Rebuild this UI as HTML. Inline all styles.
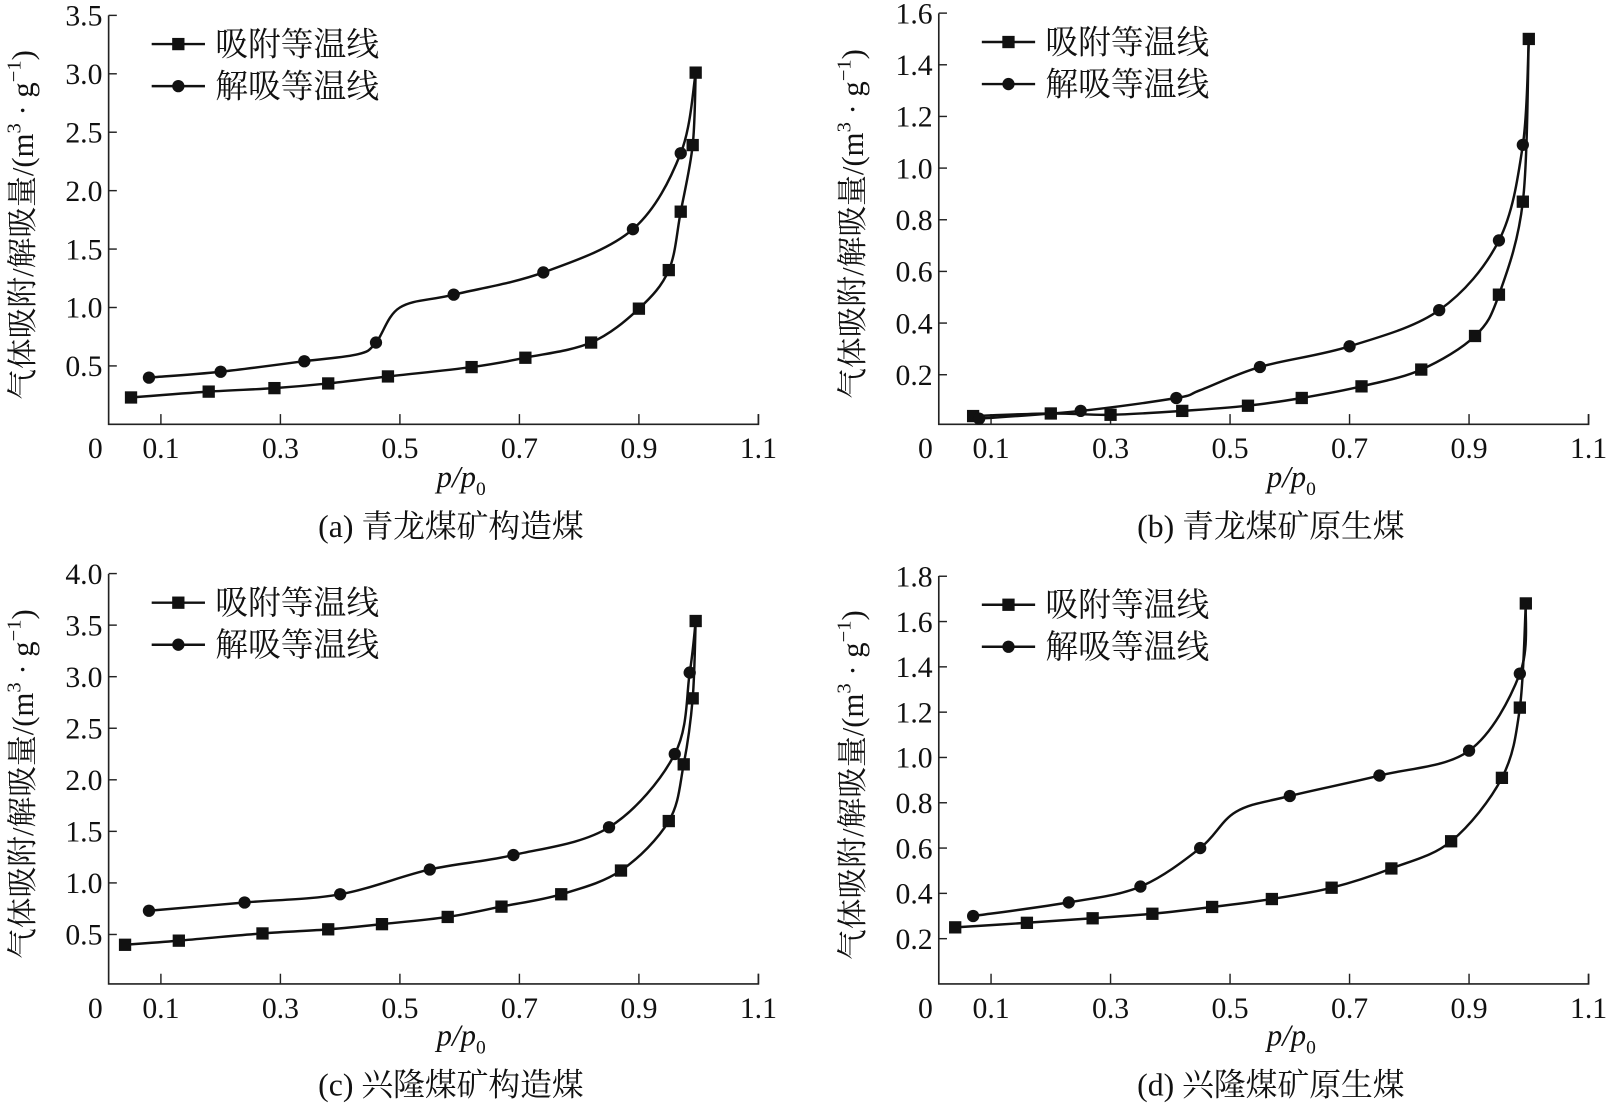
<!DOCTYPE html>
<html><head><meta charset="utf-8"><style>
html,body{margin:0;padding:0;background:#fff;}
svg{display:block;}
text{font-family:"Liberation Serif","Noto Serif CJK SC",serif;fill:#111;}
</style></head><body>
<svg id="chart" width="1607" height="1108" viewBox="0 0 1568 1081" preserveAspectRatio="none" xmlns="http://www.w3.org/2000/svg"></svg>
<script>
// Panel data arrays
const panelIds = ['a','b','c','d'];
const captions = ['(a)  青龙煤矿构造煤','(b)  青龙煤矿原生煤','(c)  兴隆煤矿构造煤','(d)  兴隆煤矿原生煤'];
const xTicks = [0.1,0.3,0.5,0.7,0.9,1.1];
const xTickLabels = ['0.1','0.3','0.5','0.7','0.9','1.1'];
const yTicksA = [0.5,1.0,1.5,2.0,2.5,3.0,3.5];
const yTicksB = [0.2,0.4,0.6,0.8,1.0,1.2,1.4,1.6];
const yTicksC = [0.5,1.0,1.5,2.0,2.5,3.0,3.5,4.0];
const yTicksD = [0.2,0.4,0.6,0.8,1.0,1.2,1.4,1.6,1.8];
const adsXA = [0.05,0.18,0.29,0.38,0.48,0.62,0.71,0.82,0.90,0.95,0.97,0.99,0.995];
const adsYA = [0.23,0.28,0.31,0.35,0.41,0.49,0.57,0.70,0.99,1.32,1.82,2.39,3.01];
const desXA = [0.08,0.20,0.34,0.43,0.46,0.50,0.59,0.74,0.89,0.97,0.995];
const desYA = [0.40,0.45,0.54,0.60,0.70,1.00,1.11,1.30,1.67,2.32,3.01];
const desMarkA = [1,1,1,0,1,0,1,1,1,1,0];
const adsXB = [0.07,0.20,0.30,0.42,0.53,0.62,0.72,0.82,0.91,0.95,0.99,1.00];
const adsYB = [0.04,0.05,0.045,0.06,0.08,0.11,0.155,0.22,0.35,0.51,0.87,1.50];
const desXB = [0.08,0.25,0.41,0.45,0.55,0.70,0.85,0.95,0.99,1.00];
const desYB = [0.03,0.06,0.11,0.14,0.23,0.31,0.45,0.72,1.09,1.50];
const desMarkB = [1,1,1,0,1,1,1,1,1,0];
const adsXC = [0.04,0.13,0.27,0.38,0.47,0.58,0.67,0.77,0.87,0.95,0.975,0.99,0.995];
const adsYC = [0.40,0.44,0.51,0.55,0.60,0.67,0.77,0.89,1.12,1.60,2.15,2.79,3.54];
const desXC = [0.08,0.24,0.40,0.55,0.69,0.85,0.96,0.985,0.995];
const desYC = [0.73,0.81,0.89,1.13,1.27,1.54,2.25,3.04,3.54];
const desMarkC = [1,1,1,1,1,1,1,1,0];
const adsXD = [0.04,0.16,0.27,0.37,0.47,0.57,0.67,0.77,0.87,0.955,0.985,0.995];
const adsYD = [0.25,0.27,0.29,0.31,0.34,0.375,0.425,0.51,0.63,0.91,1.22,1.68];
const desXD = [0.07,0.23,0.35,0.45,0.51,0.60,0.75,0.90,0.985,0.995];
const desYD = [0.30,0.36,0.43,0.60,0.76,0.83,0.92,1.03,1.37,1.68];
const desMarkD = [1,1,1,1,0,1,1,1,1,0];

const NS='http://www.w3.org/2000/svg';
const svg=document.getElementById('chart');
function mk(tag,attrs,parent){const e=document.createElementNS(NS,tag);for(const k in attrs)e.setAttribute(k,attrs[k]);(parent||svg).appendChild(e);return e;}

const layouts=[
 {ox:106,oy:414,x0:98.7,xs:583,y0:414,ys:114,top:15,ticks:yTicksA,ax:adsXA,ay:adsYA,dx:desXA,dy:desYA,dm:desMarkA,capX:440,capY:524,xlX:450,xlY:475},
 {ox:916,oy:414,x0:908.7,xs:583,y0:416,ys:252,top:13,ticks:yTicksB,ax:adsXB,ay:adsYB,dx:desXB,dy:desYB,dm:desMarkB,capX:1240,capY:524,xlX:1260,xlY:475},
 {ox:106,oy:960,x0:98.7,xs:583,y0:962,ys:100.6,top:560,ticks:yTicksC,ax:adsXC,ay:adsYC,dx:desXC,dy:desYC,dm:desMarkC,capX:440,capY:1069,xlX:450,xlY:1020},
 {ox:916,oy:960,x0:908.7,xs:583,y0:960,ys:221,top:562,ticks:yTicksD,ax:adsXD,ay:adsYD,dx:desXD,dy:desYD,dm:desMarkD,capX:1240,capY:1069,xlX:1260,xlY:1020}
];

function smoothPath(pts){
 let d='M'+pts[0][0]+','+pts[0][1];
 for(let i=0;i<pts.length-1;i++){
  const p0=pts[i-1]||pts[i],p1=pts[i],p2=pts[i+1],p3=pts[i+2]||p2;
  const t=6;
  const c1=[p1[0]+(p2[0]-p0[0])/t,p1[1]+(p2[1]-p0[1])/t];
  const c2=[p2[0]-(p3[0]-p1[0])/t,p2[1]-(p3[1]-p1[1])/t];
  d+=' C'+c1[0].toFixed(1)+','+c1[1].toFixed(1)+' '+c2[0].toFixed(1)+','+c2[1].toFixed(1)+' '+p2[0].toFixed(1)+','+p2[1].toFixed(1);
 }
 return d;
}

layouts.forEach((L,pi)=>{
 const g=mk('g',{});
 
 
 const X=v=>L.x0+v*L.xs, Y=v=>L.y0-v*L.ys;
 const right=X(1.1);
 const axes=mk('path',{d:`M${L.ox},${L.top} L${L.ox},${L.oy} L${right},${L.oy} L${right},${L.oy-10}`,fill:'none',stroke:'#222','stroke-width':1.6},g);
 
 
 L.ticks.forEach(t=>{
  const y=Y(t);
  mk('line',{x1:L.ox,x2:L.ox+8,y1:y,y2:y,stroke:'#222','stroke-width':1.4},g);
  const tx=mk('text',{x:L.ox-6,y:y+10,'font-size':29,'text-anchor':'end'},g);
  tx.textContent=t.toFixed(1);
  
  
 });
 xTicks.forEach((t,i)=>{
  const x=X(t);
  mk('line',{x1:x,x2:x,y1:L.oy,y2:L.oy-10,stroke:'#222','stroke-width':1.4},g);
  const tx=mk('text',{x:x,y:L.oy+33,'font-size':29,'text-anchor':'middle'},g);
  tx.textContent=xTickLabels[i];
  
  
 });
 const z=mk('text',{x:L.ox-13,y:L.oy+33,'font-size':29,'text-anchor':'middle'},g);
 z.textContent='0';
 
 
 const aPts=L.ax.map((v,i)=>[X(v),Y(L.ay[i])]);
 const dPts=L.dx.map((v,i)=>[X(v),Y(L.dy[i])]);
 const ac=mk('path',{d:smoothPath(aPts),fill:'none',stroke:'#111','stroke-width':2.4},g);
 
 
 const dc=mk('path',{d:smoothPath(dPts),fill:'none',stroke:'#111','stroke-width':2.4},g);
 
 
 aPts.forEach(p=>{
  const r=mk('rect',{x:p[0]-6,y:p[1]-6,width:12,height:12,fill:'#111'},g);
  
  
 });
 dPts.forEach((p,i)=>{ if(!L.dm[i]) return;
  const c=mk('circle',{cx:p[0],cy:p[1],r:6,fill:'#111'},g);
  
  
 });
 const lx=L.ox+42, ly=L.top+28;
 const lg=mk('g',{},g);
 
 
 mk('line',{x1:lx,x2:lx+52,y1:ly,y2:ly,stroke:'#111','stroke-width':2.4},lg);
 mk('rect',{x:lx+20,y:ly-6,width:12,height:12,fill:'#111'},lg);
 const t1=mk('text',{x:lx+62,y:ly+11,'font-size':32,'font-family':'"Noto Serif CJK SC",serif'},lg);
 t1.textContent='吸附等温线';
 
 
 mk('line',{x1:lx,x2:lx+52,y1:ly+41,y2:ly+41,stroke:'#111','stroke-width':2.4},lg);
 mk('circle',{cx:lx+26,cy:ly+41,r:6,fill:'#111'},lg);
 const t2=mk('text',{x:lx+62,y:ly+52,'font-size':32,'font-family':'"Noto Serif CJK SC",serif'},lg);
 t2.textContent='解吸等温线';
 
 
 const yc=(L.top+L.oy)/2+5;
 const yl=mk('text',{x:0,y:0,'font-size':30,'text-anchor':'middle',transform:`translate(${L.ox-74},${yc}) rotate(-90)`},g);
 yl.innerHTML='气体吸附/解吸量/(m<tspan dy="-12" font-size="20">3</tspan><tspan dy="12"> · g</tspan><tspan dy="-12" font-size="20">−1</tspan><tspan dy="12">)</tspan>';
 
 
 const xl=mk('text',{x:L.xlX,y:L.xlY,'font-size':30,'text-anchor':'middle','font-style':'italic'},g);
 xl.innerHTML='p/p<tspan dy="8" font-size="19" font-style="normal">0</tspan>';
 
 
 const cap=mk('text',{x:L.capX,y:L.capY,'font-size':31,'text-anchor':'middle'},g);
 cap.textContent=captions[pi];
 
 
});
</script>
</body></html>
